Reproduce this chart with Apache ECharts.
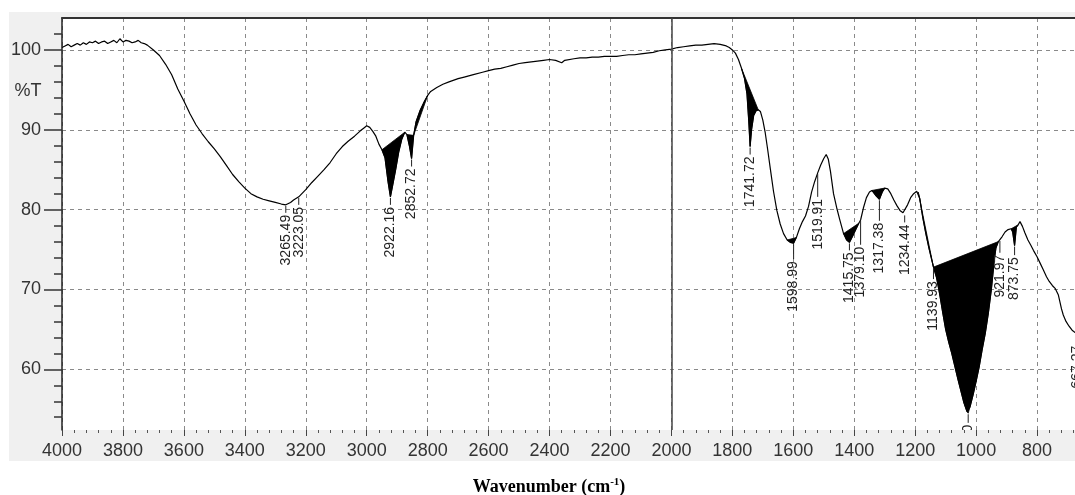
<!DOCTYPE html>
<html>
<head>
<meta charset="utf-8">
<script src="https://cdn.jsdelivr.net/npm/echarts@6/dist/echarts.min.js"></script>
<style>
html, body { margin: 0; padding: 0; background: #fff; }
#chart { width: 1075px; height: 495px; }
</style>
</head>
<body>
<div id="chart"></div>
<script>
// IR spectrum (wavenumber in cm-1, transmittance in %T)
const wavenumbers = [
	4000, 3990, 3980, 3970, 3960, 3950, 3940, 3930, 3920, 3910, 3900, 3890, 3880, 3870, 3860,
	3850, 3840, 3830, 3820, 3810, 3800, 3790, 3780, 3770, 3760, 3750, 3740, 3730, 3720,
	3700, 3680, 3660, 3640, 3620, 3600, 3580, 3560, 3540, 3520, 3500, 3480, 3460, 3440, 3420,
	3400, 3380, 3360, 3340, 3320, 3300, 3280, 3265.49, 3250, 3240, 3223.05, 3200, 3180, 3160,
	3140, 3120, 3100, 3080, 3060, 3040, 3020, 3010, 3000, 2990, 2980, 2970, 2960, 2950, 2940,
	2930, 2922.16, 2915, 2905, 2895, 2885, 2875, 2868, 2860, 2852.72, 2846, 2838, 2825, 2810,
	2800, 2790, 2770, 2750, 2730, 2700, 2680, 2650, 2620, 2600, 2580, 2560, 2540, 2520, 2500,
	2480, 2460, 2440, 2420, 2400, 2380, 2360, 2350, 2320, 2300, 2280, 2260, 2240, 2220, 2200,
	2180, 2160, 2140, 2120, 2100, 2080, 2060, 2040, 2020, 2000, 1980, 1960, 1940, 1920, 1900,
	1880, 1860, 1840, 1820, 1810, 1800, 1790, 1780, 1770, 1760, 1752, 1746, 1741.72, 1737, 1730,
	1722, 1715, 1708, 1700, 1692, 1684, 1675, 1665, 1654, 1643, 1632, 1620, 1610, 1598.99, 1590,
	1580, 1570, 1560, 1550, 1540, 1530, 1519.91, 1510, 1500, 1492, 1485, 1478, 1468, 1458, 1448,
	1435, 1425, 1415.75, 1405, 1395, 1385, 1379.10, 1370, 1360, 1350, 1342, 1330, 1317.38, 1308,
	1300, 1290, 1280, 1270, 1260, 1250, 1240, 1234.44, 1225, 1215, 1205, 1195, 1190, 1185, 1175,
	1165, 1155, 1145, 1139.93, 1130, 1120, 1110, 1100, 1090, 1080, 1070, 1060, 1050, 1040, 1030,
	1026, 1020, 1010, 1000, 990, 980, 970, 960, 950, 940, 935, 927, 921.97, 915, 905, 895, 885,
	880, 873.75, 868, 862, 856, 848, 840, 830, 820, 812, 800, 790, 780, 769, 760, 750, 740, 730,
	720, 714, 705, 695, 685, 675, 667.27
];
const transmittance = [
	100.3, 100.5, 100.7, 100.4, 100.6, 100.8, 100.6, 100.9, 100.7, 101.0, 100.9, 101.1, 100.8, 101.0, 101.1,
	100.8, 101.0, 101.2, 100.9, 101.4, 101.0, 101.2, 101.1, 100.9, 101.0, 101.2, 100.9, 100.8, 100.6,
	100.0, 99.3, 98.2, 96.9, 95.1, 93.6, 92.0, 90.6, 89.5, 88.5, 87.6, 86.6, 85.5, 84.4, 83.5,
	82.7, 82.0, 81.6, 81.3, 81.1, 80.9, 80.7, 80.6, 80.9, 81.2, 81.6, 82.5, 83.4, 84.2,
	85.0, 85.9, 87.0, 87.9, 88.6, 89.2, 89.9, 90.2, 90.5, 90.3, 89.8, 89.2, 88.2, 87.5, 86.5,
	83.5, 81.6, 83.0, 85.0, 87.2, 88.8, 89.7, 89.4, 88.0, 86.4, 89.3, 91.0, 92.4, 93.6,
	94.3, 94.8, 95.3, 95.7, 96.0, 96.4, 96.6, 96.9, 97.2, 97.4, 97.6, 97.7, 97.9, 98.1, 98.3,
	98.4, 98.5, 98.6, 98.7, 98.8, 98.7, 98.4, 98.7, 98.9, 99.0, 99.0, 99.1, 99.1, 99.2, 99.2,
	99.2, 99.3, 99.4, 99.4, 99.5, 99.6, 99.7, 99.9, 100.0, 100.1, 100.3, 100.4, 100.5, 100.6, 100.6,
	100.7, 100.8, 100.7, 100.5, 100.3, 100.0, 99.6, 98.8, 97.7, 96.4, 94.5, 91.0, 87.9, 90.0, 91.8,
	92.4, 92.5, 92.3, 91.2, 89.6, 87.5, 85.0, 82.3, 79.9, 78.2, 77.0, 76.2, 75.9, 75.8, 76.5,
	77.6, 78.5, 79.2, 80.4, 82.2, 83.5, 84.6, 85.6, 86.4, 86.9, 86.3, 84.8, 82.0, 80.3, 78.8,
	77.0, 76.2, 75.9, 76.7, 77.5, 78.3, 78.7, 80.2, 81.5, 82.2, 82.4, 81.8, 81.3, 82.2,
	82.7, 82.6, 82.0, 81.2, 80.5, 79.9, 79.6, 79.4, 80.6, 81.5, 82.0, 82.3, 82.2, 81.4, 79.0,
	77.0, 75.2, 73.6, 72.8, 71.5, 69.5, 67.2, 65.0, 63.4, 62.0, 60.4, 58.8, 57.3, 55.8, 54.7,
	54.5, 55.3, 56.8, 58.5, 60.3, 62.5, 64.5, 67.0, 70.0, 73.8, 75.2, 76.0, 76.2, 76.6, 77.2, 77.5, 77.6,
	77.2, 75.5, 77.8, 78.1, 78.5, 77.9, 77.1, 76.2, 75.5, 74.9, 74.1, 73.3, 72.5, 71.6, 71.0, 70.5, 70.1, 69.3,
	67.6, 66.8, 66.0, 65.4, 64.9, 64.6, 64.4
];

// integrated (black) regions: from / to wavenumber
const fillFrom = [2950, 2868, 2846, 1770, 1620, 1435, 1342, 1190, 1139.93, 885];
const fillTo = [2875, 2846, 2800, 1715, 1585, 1385, 1300, 1139.93, 927, 862];

// peak labels and the %T where each label starts
const peakWavenumbers = [3265.49, 3223.05, 2922.16, 2852.72, 1741.72, 1598.99, 1519.91, 1415.75,
	1379.10, 1317.38, 1234.44, 1139.93, 1026, 921.97, 873.75, 667.27];
const peakLabelT = [80.6, 81.6, 81.6, 86.4, 87.9, 74.8, 82.6, 75.9,
	76.6, 79.6, 79.4, 72.3, 54.3, 75.6, 75.3, 64.2];

const yMajorTicks = [60, 70, 80, 90, 100];
const yMinorTicks = [54, 56, 58, 62, 64, 66, 68, 72, 74, 76, 78, 82, 84, 86, 88, 92, 94, 96, 98, 102];

const spectrum = wavenumbers.map( ( w, i ) => [ w, transmittance[ i ] ] );

// transmittance of the curve at a wavenumber, for the label leaders
const curveAt = ( wn ) => {
	for ( let i = 1; i < wavenumbers.length; i++ ) {
		if ( wavenumbers[ i ] <= wn ) {
			const w0 = wavenumbers[ i - 1 ];
			const w1 = wavenumbers[ i ];
			const t = ( w0 - wn ) / ( w0 - w1 );
			return transmittance[ i - 1 ] + t * ( transmittance[ i ] - transmittance[ i - 1 ] );
		}
	}
	return transmittance[ transmittance.length - 1 ];
};

const labelFont = '14px "Liberation Sans", Arial, sans-serif';
const tickFont = { fontFamily: '"Liberation Sans", Arial, sans-serif', fontSize: 18, color: '#333' };
const plainNumber = ( value ) => String( value );

const chart = echarts.init( document.getElementById( 'chart' ), null, { renderer: 'canvas' } );

chart.setOption( {
	animation: false,
	backgroundColor: '#fff',
	graphic: [
		{
			type: 'rect',
			z: -100,
			silent: true,
			shape: { x: 9, y: 12, width: 1070, height: 449 },
			style: { fill: '#f0f0f0' }
		},
		{
			type: 'text',
			x: 28,
			y: 91,
			style: {
				text: '%T',
				font: '18px "Liberation Sans", Arial, sans-serif',
				fill: '#333',
				align: 'center',
				verticalAlign: 'middle'
			}
		},
		{
			type: 'text',
			x: 549,
			y: 487,
			style: {
				text: '{a|Wavenumber (cm}{s|-1}{a|)}',
				align: 'center',
				verticalAlign: 'middle',
				rich: {
					a: { font: 'bold 18px "Liberation Serif", "Times New Roman", serif', fill: '#000', lineHeight: 20 },
					s: { font: 'bold 11px "Liberation Serif", "Times New Roman", serif', fill: '#000', verticalAlign: 'top', lineHeight: 20 }
				}
			}
		}
	],
	grid: {
		left: 62,
		right: -23,
		top: 18,
		bottom: 65,
		outerBoundsMode: 'none',
		containLabel: false,
		show: true,
		backgroundColor: '#fff',
		borderWidth: 0
	},
	xAxis: [
		{
			type: 'value',
			inverse: true,
			min: 600,
			max: 4000,
			interval: 200,
			axisLine: { show: false },
			axisTick: { show: true, length: 6, lineStyle: { color: '#444' } },
			minorTick: { show: true, splitNumber: 5, length: 3, lineStyle: { color: '#555' } },
			axisLabel: Object.assign( { margin: 12, formatter: plainNumber, hideOverlap: false }, tickFont ),
			splitLine: { show: true, lineStyle: { color: '#8a8a8a', type: [ 4, 4 ], width: 1 } }
		},
		{
			type: 'value',
			position: 'top',
			inverse: true,
			min: 600,
			max: 4000,
			axisLine: { show: true, lineStyle: { color: '#333', width: 2 } },
			axisTick: { show: false },
			axisLabel: { show: false },
			splitLine: { show: false }
		}
	],
	yAxis: [
		{
			type: 'value',
			min: 52.4,
			max: 104,
			axisLine: { show: true, lineStyle: { color: '#222', width: 1.5 } },
			axisTick: { show: true, length: 18, customValues: yMajorTicks, lineStyle: { color: '#333', width: 1.5 } },
			axisLabel: Object.assign( { margin: 21, customValues: yMajorTicks, formatter: plainNumber }, tickFont ),
			splitLine: { show: true, lineStyle: { color: '#8a8a8a', type: [ 4, 4 ], width: 1 } }
		},
		{
			type: 'value',
			position: 'left',
			min: 52.4,
			max: 104,
			axisLine: { show: false },
			axisTick: { show: true, length: 8, customValues: yMinorTicks, lineStyle: { color: '#333', width: 1.5 } },
			axisLabel: { show: false },
			splitLine: { show: false }
		}
	],
	series: [
		{
			name: 'spectrum',
			type: 'line',
			data: spectrum,
			showSymbol: false,
			lineStyle: { color: '#000', width: 1.2 },
			z: 3,
			markLine: {
				silent: true,
				symbol: 'none',
				label: { show: false },
				lineStyle: { color: '#444', type: 'solid', width: 1.5 },
				data: [ { xAxis: 2000 } ]
			}
		},
		{
			name: 'areas',
			type: 'custom',
			clip: true,
			z: 4,
			data: fillFrom.map( ( f, i ) => [ f, fillTo[ i ] ] ),
			encode: { x: [ 0, 1 ] },
			renderItem: ( params, api ) => {
				const from = api.value( 0 );
				const to = api.value( 1 );
				const points = spectrum
					.filter( ( p ) => p[ 0 ] <= from && p[ 0 ] >= to )
					.map( ( p ) => api.coord( p ) );
				return {
					type: 'polygon',
					shape: { points },
					style: { fill: '#000', stroke: '#000', lineWidth: 0.8 }
				};
			}
		},
		{
			name: 'peaks',
			type: 'custom',
			clip: true,
			z: 5,
			data: peakWavenumbers.map( ( w, i ) => [ w, peakLabelT[ i ] ] ),
			renderItem: ( params, api ) => {
				const wn = api.value( 0 );
				const start = api.coord( [ wn, api.value( 1 ) ] );
				const onCurve = api.coord( [ wn, curveAt( wn ) ] );
				const top = Math.min( onCurve[ 1 ], start[ 1 ] ) + 1;
				return {
					type: 'group',
					children: [
						{
							type: 'line',
							shape: { x1: start[ 0 ], y1: top, x2: start[ 0 ], y2: start[ 1 ] + 8 },
							style: { stroke: '#222', lineWidth: 1 }
						},
						{
							type: 'text',
							x: start[ 0 ],
							y: start[ 1 ] + 10,
							rotation: Math.PI / 2,
							style: {
								text: wn.toFixed( 2 ),
								font: labelFont,
								fill: '#222',
								align: 'right',
								verticalAlign: 'middle'
							}
						}
					]
				};
			}
		}
	]
} );
</script>
</body>
</html>
